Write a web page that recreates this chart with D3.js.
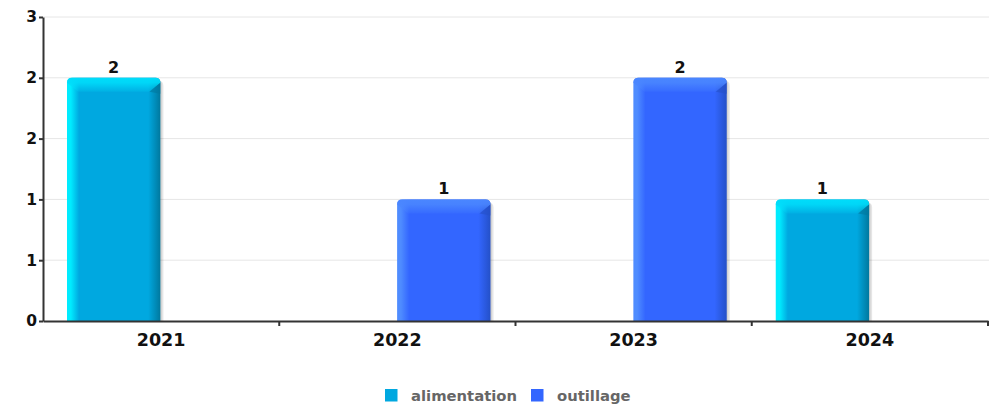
<!DOCTYPE html>
<html><head><meta charset="utf-8">
<script src="https://cdn.jsdelivr.net/npm/d3@7"></script>
<style>html,body{margin:0;padding:0;background:#fff;}svg{display:block;font-family:"DejaVu Sans",sans-serif;}</style>
</head><body>
<svg id="c" width="998" height="406"></svg>
<script>
const categories = ["2021", "2022", "2023", "2024"];
const seriesNames = ["alimentation", "outillage"];
const alimentation = [2, null, null, 1];
const outillage = [null, 1, 2, null];
const yTicks = [0, 0.5, 1, 1.5, 2, 2.5];

const colors = {
  alimentation: {base: "#00a8e0", light: "#00ecff", dark: "#00789e", top: "#00dcfa"},
  outillage: {base: "#3366ff", light: "#4f8cff", dark: "#2450c8", top: "#4a86ff"}
};

const svg = d3.select("#c");
const m = {l: 43, r: 988, t: 17, b: 321};
const x = d3.scaleBand().domain(categories).range([m.l, m.r]).padding(0);
const xi = d3.scaleBand().domain(seriesNames).range([24, x.bandwidth() - 25]).paddingInner(0.005);
const y = d3.scaleLinear().domain([0, 2.5]).range([m.b, m.t]);
const fmt = v => (Math.round(v)).toString();

const defs = svg.append("defs");
seriesNames.forEach(s => {
  const c = colors[s];
  const g = defs.append("linearGradient").attr("id", "g-" + s).attr("x1", 0).attr("x2", 1).attr("y1", 0).attr("y2", 0);
  g.append("stop").attr("offset", 0).attr("stop-color", c.light);
  g.append("stop").attr("offset", 0.04).attr("stop-color", c.light);
  g.append("stop").attr("offset", 0.13).attr("stop-color", c.base);
  g.append("stop").attr("offset", 0.87).attr("stop-color", c.base);
  g.append("stop").attr("offset", 1).attr("stop-color", c.dark);
  const t = defs.append("linearGradient").attr("id", "t-" + s).attr("x1", 0).attr("x2", 0).attr("y1", 0).attr("y2", 1);
  t.append("stop").attr("offset", 0).attr("stop-color", c.top).attr("stop-opacity", 1);
  t.append("stop").attr("offset", 0.35).attr("stop-color", c.top).attr("stop-opacity", 0.9);
  t.append("stop").attr("offset", 1).attr("stop-color", c.top).attr("stop-opacity", 0.15);
});

// gridlines
svg.append("g").selectAll("line").data(yTicks.filter(d => d > 0)).join("line")
  .attr("x1", m.l).attr("x2", m.r + 1).attr("y1", d => y(d)).attr("y2", d => y(d))
  .attr("stroke", "#e6e6e6").attr("stroke-width", 1);

// bars
const data = [];
categories.forEach((cat, i) => {
  [["alimentation", alimentation[i]], ["outillage", outillage[i]]].forEach(([s, v]) => {
    if (v != null) data.push({cat, s, v});
  });
});

const bars = svg.append("g").selectAll("g").data(data).join("g")
  .attr("transform", d => `translate(${x(d.cat) + xi(d.s)},0)`);
const bw = xi.bandwidth();
const r = 5;
function barPath(w, top, bot) {
  return `M0,${bot} L0,${top + r} Q0,${top} ${r},${top} L${w - r},${top} Q${w},${top} ${w},${top + r} L${w},${bot} Z`;
}
// shadow
bars.append("path").attr("transform", "translate(3,0)")
  .attr("d", d => barPath(bw, y(d.v) + 3, y(0))).attr("fill", "#000").attr("opacity", 0.1);
bars.append("path").attr("transform", "translate(1.5,0)")
  .attr("d", d => barPath(bw, y(d.v) + 2, y(0))).attr("fill", "#000").attr("opacity", 0.08);
bars.append("path").attr("d", d => barPath(bw, y(d.v), y(0)))
  .attr("fill", d => `url(#g-${d.s})`);
// top bevel
bars.append("path").attr("d", d => {
  const t = y(d.v);
  return `M0,${t + r} Q0,${t} ${r},${t} L${bw - r},${t} Q${bw},${t} ${bw},${t + r} L${bw - 11},${t + 14} L11,${t + 14} Z`;
}).attr("fill", d => `url(#t-${d.s})`);
// right bevel side
bars.append("path").attr("d", d => {
  const t = y(d.v);
  return `M${bw},${t + r} L${bw - 11},${t + 14} L${bw},${t + 16} Z`;
}).attr("fill", d => colors[d.s].dark).attr("opacity", 0.6);

// value labels
bars.append("text").attr("x", bw / 2).attr("y", d => y(d.v) - 5)
  .attr("text-anchor", "middle").attr("font-size", 16).attr("font-weight", "bold").attr("fill", "#111")
  .text(d => fmt(d.v));

// y axis
const ya = svg.append("g").attr("transform", `translate(${m.l},0)`)
  .call(d3.axisLeft(y).tickValues(yTicks).tickFormat(fmt).tickSize(4).tickSizeOuter(0));
ya.select(".domain").attr("stroke", "#333").attr("stroke-width", 2);
ya.selectAll(".tick line").attr("stroke", "#333").attr("stroke-width", 2);
ya.selectAll("text").attr("font-size", 15.5).attr("font-weight", "bold").attr("fill", "#111")
  .attr("font-family", "DejaVu Sans").attr("x", -6);

// x axis
const xa = svg.append("g").attr("transform", `translate(0,${m.b})`)
  .call(d3.axisBottom(x).tickSize(0).tickSizeOuter(0));
xa.select(".domain").attr("stroke", "#333").attr("stroke-width", 2);
xa.selectAll("text").attr("font-size", 17.5).attr("font-weight", "bold").attr("fill", "#111")
  .attr("font-family", "DejaVu Sans").attr("dy", "0").attr("y", 25);
// boundary ticks
svg.append("g").selectAll("line").data(categories.slice(1).concat(["end"])).join("line")
  .attr("x1", d => d === "end" ? m.r : x(d)).attr("x2", d => d === "end" ? m.r : x(d))
  .attr("y1", m.b).attr("y2", m.b + 5).attr("stroke", "#333").attr("stroke-width", 2);

// legend
const legend = svg.append("g").attr("transform", "translate(385,389)");
const items = legend.selectAll("g").data(seriesNames).join("g")
  .attr("transform", (d, i) => `translate(${i === 0 ? 0 : 146},0)`);
items.append("rect").attr("width", 12.5).attr("height", 12.5).attr("fill", d => colors[d].base);
items.append("text").attr("x", 26).attr("y", 11.5).attr("font-size", 14.8).attr("font-weight", "bold")
  .attr("fill", "#666").text(d => d);
</script>
</body></html>
